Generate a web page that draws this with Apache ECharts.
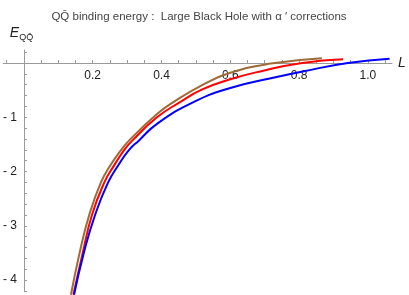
<!DOCTYPE html>
<html><head><meta charset="utf-8">
<script src="https://cdn.jsdelivr.net/npm/echarts@6/dist/echarts.min.js"></script>
<style>html,body{margin:0;padding:0;background:#fff}#c{width:409px;height:295px}</style>
</head><body><div id="c"></div>
<script>
// Data (L, E)
const brownL = [0.137, 0.161, 0.190, 0.224, 0.252, 0.283, 0.307, 0.387, 0.430, 0.517, 0.600, 0.718, 0.866];
const brownE = [-4.27, -3.53, -2.80, -2.20, -1.88, -1.60, -1.42, -0.94, -0.74, -0.41, -0.18, -0.01, 0.09];
const redL = [0.144, 0.170, 0.198, 0.234, 0.262, 0.292, 0.315, 0.387, 0.454, 0.517, 0.600, 0.690, 0.809, 0.928];
const redE = [-4.27, -3.53, -2.80, -2.20, -1.89, -1.60, -1.43, -1.00, -0.72, -0.49, -0.30, -0.15, 0.00, 0.07];
const blueL = [0.146, 0.173, 0.207, 0.245, 0.276, 0.306, 0.334, 0.387, 0.493, 0.600, 0.718, 0.814, 0.942, 1.063];
const blueE = [-4.27, -3.53, -2.80, -2.20, -1.87, -1.60, -1.43, -1.12, -0.72, -0.46, -0.28, -0.15, 0.00, 0.08];
const xTickLabels = [0.2, 0.4, 0.6, 0.8, 1.0];
const yTickLabels = [-1, -2, -3, -4];
const xMinorTicks = [-0.05,0.05,0.1,0.15,0.2,0.25,0.3,0.35,0.4,0.45,0.5,0.55,0.6,0.65,0.7,0.75,0.8,0.85,0.9,0.95,1.0,1.05];
const yMinorTicks = [0.2,-0.2,-0.4,-0.6,-0.8,-1,-1.2,-1.4,-1.6,-1.8,-2,-2.2,-2.4,-2.6,-2.8,-3,-3.2,-3.4,-3.6,-3.8,-4,-4.2];
const titleText = 'QQ\u0304 binding energy :  Large Black Hole with \u03B1 \u2032 corrections';

const zip = (a, b) => a.map((v, i) => [v, b[i]]);
const FONT = '"Liberation Sans", Arial, sans-serif';
const axisGray = '#9a9a9a';

const X_MIN = -0.06, X_MAX = 1.07, Y_MIN = -4.2, Y_MAX = 0.24;
const G_LEFT = 0, G_RIGHT = 17, G_TOP = 50, G_BOTTOM = 4;
const W = 409, H = 295;
const gw = W - G_LEFT - G_RIGHT, gh = H - G_TOP - G_BOTTOM;
// place axes through the origin (offsets derived from the axis scales)
const xAxisOffset = -(gh * (0 - Y_MIN) / (Y_MAX - Y_MIN));
const yAxisOffset = -(gw * (0 - X_MIN) / (X_MAX - X_MIN));

const chart = echarts.init(document.getElementById('c'), null, {renderer: 'canvas'});
chart.setOption({
  animation: false,
  backgroundColor: '#fff',
  title: {
    text: titleText, left: 194, top: 6, textAlign: 'center',
    textStyle: {fontFamily: FONT, fontSize: 11.5, fontWeight: 'normal', color: '#444'}
  },
  grid: {left: G_LEFT, right: G_RIGHT, top: G_TOP, bottom: G_BOTTOM, containLabel: false},
  xAxis: {
    type: 'value', min: X_MIN, max: X_MAX, position: 'bottom', offset: xAxisOffset,
    axisLine: {onZero: false, lineStyle: {color: axisGray, width: 1}},
    axisTick: {show: true, inside: true, length: 3, customValues: xMinorTicks, lineStyle: {color: axisGray}},
    axisLabel: {customValues: xTickLabels, margin: 7, color: '#222', fontFamily: FONT, fontSize: 12,
      formatter: v => v.toFixed(1)},
    splitLine: {show: false},
    name: 'L', nameLocation: 'end', nameGap: 6,
    nameTextStyle: {fontFamily: FONT, fontSize: 14, fontStyle: 'italic', color: '#222', verticalAlign: 'middle'}
  },
  yAxis: {
    type: 'value', min: Y_MIN, max: Y_MAX, position: 'left', offset: yAxisOffset,
    axisLine: {onZero: false, lineStyle: {color: axisGray, width: 1}},
    axisTick: {show: true, inside: true, length: 3, customValues: yMinorTicks, lineStyle: {color: axisGray}},
    axisLabel: {customValues: yTickLabels, margin: 7, color: '#222', fontFamily: FONT, fontSize: 12,
      formatter: v => '- ' + Math.abs(v)},
    splitLine: {show: false},
    name: '{e|E}{s|QQ\u0304}', nameLocation: 'end', nameGap: 8,
    nameTextStyle: {
      align: 'center', verticalAlign: 'bottom', padding: [0, 5, 0, 0],
      rich: {
        e: {fontFamily: FONT, fontSize: 14, fontStyle: 'italic', color: '#222'},
        s: {fontFamily: FONT, fontSize: 9, color: '#222', padding: [8, 0, 0, 0]}
      }
    }
  },
  series: [
    {type: 'line', data: zip(brownL, brownE), showSymbol: false, smooth: 0.5, clip: false,
      lineStyle: {color: '#9e6a38', width: 2}, itemStyle: {color: '#9e6a38'}},
    {type: 'line', data: zip(redL, redE), showSymbol: false, smooth: 0.5, clip: false,
      lineStyle: {color: '#ff0000', width: 2}, itemStyle: {color: '#ff0000'}},
    {type: 'line', data: zip(blueL, blueE), showSymbol: false, smooth: 0.5, clip: false,
      lineStyle: {color: '#0000ff', width: 2}, itemStyle: {color: '#0000ff'}}
  ]
});
</script></body></html>
